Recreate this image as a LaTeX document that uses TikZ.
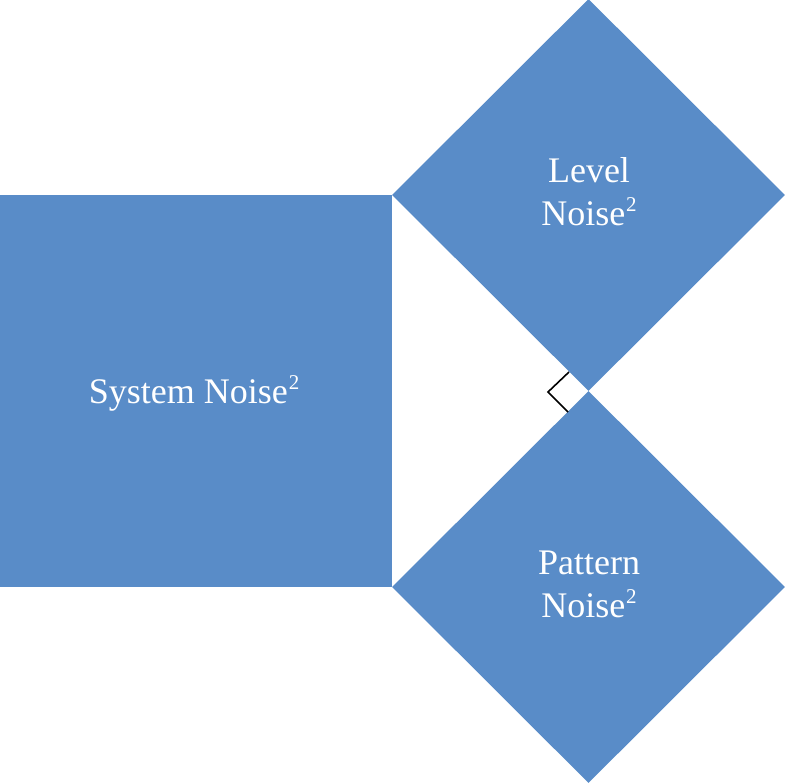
\documentclass[tikz,border=0pt]{standalone}
\usepackage{fontspec}
\setmainfont{Liberation Serif}
\usetikzlibrary{shapes.geometric}
\definecolor{tileblue}{HTML}{598CC8}
% small raised "2" set in the text font
\newcommand{\sqmark}{\hspace{1pt}\raisebox{14pt}{\fontsize{21}{21}\selectfont 2}}
\begin{document}
\begin{tikzpicture}[x=1pt,y=-1pt,
  tile/.style={fill=tileblue,draw=none,inner sep=0pt,text=white,align=center,
    font=\fontsize{36}{43}\selectfont},
  squaretile/.style={tile,rectangle,minimum width=392pt,minimum height=392pt},
  diamondtile/.style={tile,diamond,minimum width=393pt,minimum height=392pt},
  rightmark/.style={draw=black,line width=1.6pt}]
  \useasboundingbox (0,0) rectangle (785,783);
  % square on the hypotenuse side
  \node[squaretile] (sys) at (196,391) {};
  \node[tile,fill=none] (systext) at (194,393) {System Noise\sqmark};
  % the two diamonds meeting at a right angle
  \node[diamondtile] (lvl) at (588.5,195) {};
  \node[tile,fill=none] (lvltext) at (589,192) {Level\\Noise\sqmark};
  \node[diamondtile] (pat) at (588.5,587) {};
  \node[tile,fill=none] (pattext) at (589,584) {Pattern\\Noise\sqmark};
  % right-angle marker
  \coordinate (m1) at (569,372);
  \coordinate (m2) at (548,392);
  \coordinate (m3) at (568,412);
  \draw[rightmark] (m1) -- (m2) -- (m3);
\end{tikzpicture}
\end{document}
